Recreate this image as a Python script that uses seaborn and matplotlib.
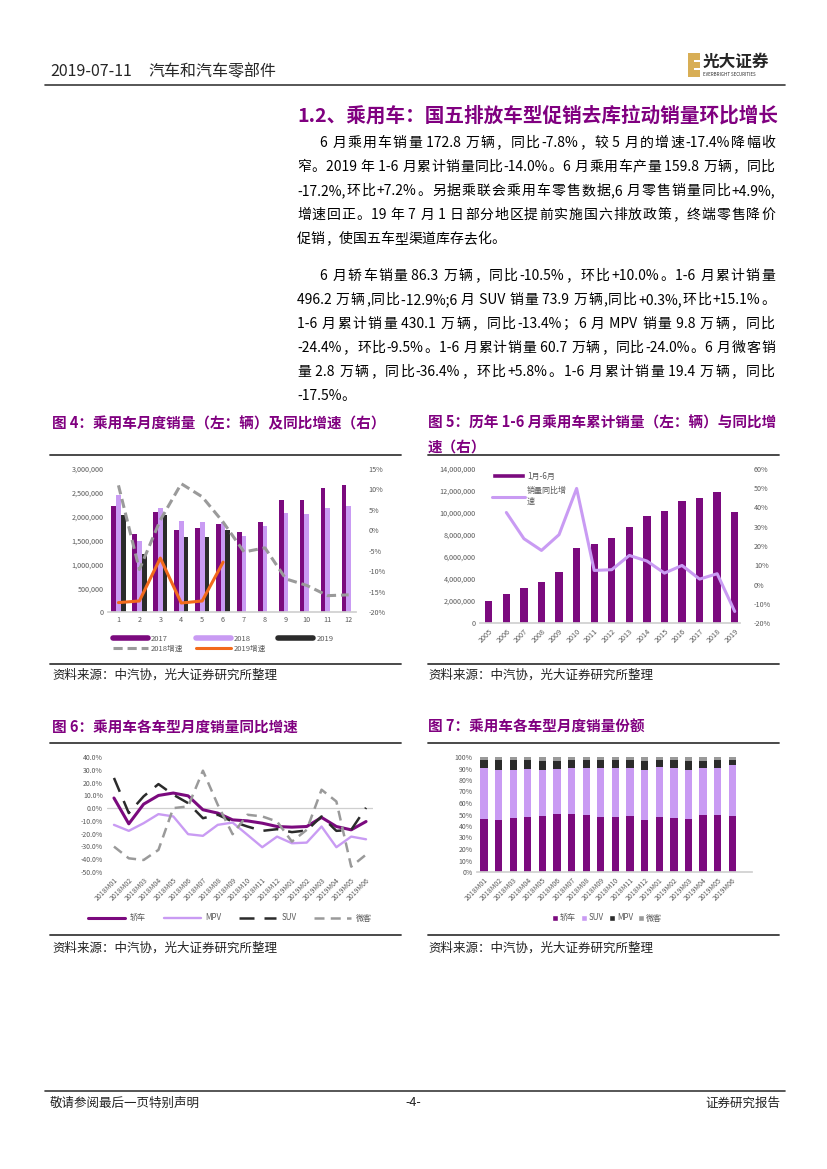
import re
import numpy as np
import pandas as pd
import matplotlib
matplotlib.use('Agg')
import matplotlib.pyplot as plt
import seaborn as sns
from matplotlib.lines import Line2D
from matplotlib.patches import Patch, Rectangle
from matplotlib.font_manager import FontProperties

sns.set_theme(style='white')
plt.rcParams['font.family'] = ['Noto Sans CJK SC', 'DejaVu Sans']
plt.rcParams['axes.unicode_minus'] = False

# ---- data ----
months = list(range(1, 13))
sales_2017 = [2222000, 1633000, 2096000, 1717000, 1759000, 1843000,
              1675000, 1885000, 2355000, 2355000, 2600000, 2663000]
sales_2018 = [2453000, 1486000, 2180000, 1906000, 1885000, 1885000,
              1598000, 1801000, 2075000, 2054000, 2180000, 2222000]
sales_2019 = [2033000, 1213000, 2033000, 1570000, 1570000, 1717000]
growth_2018 = [11.0, -9.6, 2.5, 11.4, 8.2, 2.0, -5.3, -4.3, -11.9, -13.5, -16.0, -15.8]
growth_2019 = [-17.7, -17.3, -6.8, -17.8, -17.3, -7.8]

h1_years = [str(y) for y in range(2005, 2020)]
h1_sales = [1970000, 2660000, 3200000, 3750000, 4660000, 6800000, 7190000, 7740000,
            8740000, 9740000, 10160000, 11100000, 11370000, 11910000, 10120000]
h1_growth = [np.nan, 37.4, 23.8, 17.7, 25.9, 49.9, 7.3, 7.7, 15.1, 12.2,
             5.9, 9.9, 2.8, 5.6, -14.0]

ym_labels = ['2018M%02d' % m for m in range(1, 13)] + ['2019M%02d' % m for m in range(1, 7)]
yoy_sedan = [7.9, -12.3, 3.1, 9.9, 11.8, 9.6, -1.3, -3.9, -9.2, -10.0, -11.8, -14.4,
             -14.9, -14.4, -7.3, -14.4, -17.0, -10.5]
yoy_mpv = [-13.1, -17.8, -11.8, -4.7, -6.5, -20.4, -21.7, -13.1, -11.3, -20.9, -30.6, -22.3,
           -27.5, -27.0, -14.4, -30.6, -22.3, -24.4]
yoy_suv = [23.6, -3.9, 9.2, 18.8, 10.5, 3.9, -7.9, -5.2, -10.5, -14.4, -17.8, -16.5,
           -18.8, -17.5, -6.5, -17.8, -17.0, 0.3]
yoy_mini = [-30.1, -39.3, -40.6, -32.7, 0.0, 1.3, 29.3, 2.6, -20.4, -5.2, -6.5, -10.5,
            -26.2, -17.0, 14.4, 5.2, -45.8, -36.4]

share_sedan = [46.0, 45.0, 47.0, 48.0, 48.7, 50.4, 50.4, 49.6, 47.8, 47.8, 48.7, 45.0,
               47.8, 47.0, 46.0, 49.6, 49.6, 48.7]
share_suv = [44.4, 43.9, 41.9, 41.8, 40.2, 39.4, 40.0, 40.8, 42.6, 42.6, 41.7, 43.9,
             43.7, 43.4, 42.9, 40.8, 40.8, 44.0]
share_mpv = [7.3, 8.8, 8.8, 7.9, 7.9, 7.0, 7.3, 7.3, 7.3, 7.3, 7.3, 7.9,
             6.2, 7.3, 7.9, 6.4, 7.3, 5.0]
share_mini = [2.3, 2.3, 2.3, 2.3, 3.2, 3.2, 2.3, 2.3, 2.3, 2.3, 2.3, 3.2,
              2.3, 2.3, 3.2, 3.2, 2.3, 2.3]

PURPLE = '#7B0A7E'
LILAC = '#C99BF3'
DARK = '#2B2B2B'
GRAY = '#9A9A9A'
ORANGE = '#F26A1B'
TITLE_PURPLE = '#800080'
TICK = '#595959'

W, H = 827, 1169
fig = plt.figure(figsize=(8.27, 11.69), dpi=100)
renderer = fig.canvas.get_renderer()


def fx(x):
    return x / W


def fy(y):
    return 1 - y / H


def hline(x0, x1, y, lw=1.0, color='#3a3a3a'):
    fig.add_artist(Line2D([fx(x0), fx(x1)], [fy(y), fy(y)], lw=lw, color=color))


def px_axes(x0, y0, x1, y1):
    return fig.add_axes([fx(x0), fy(y1), (x1 - x0) / W, (y1 - y0) / H])


def text_line(x0, x1, y, s, fp, justify=True):
    # spread CJK chars / ascii runs so the line fills x0..x1
    toks = re.findall(r'[ -~]+|.', s)
    widths = [renderer.get_text_width_height_descent(t, fp, ismath=False)[0] for t in toks]
    gap = (x1 - x0 - sum(widths)) / (len(toks) - 1) if justify and len(toks) > 1 else 0
    x = x0
    for t, w in zip(toks, widths):
        fig.text(fx(x), fy(y), t, fontproperties=fp, ha='left', va='center', color='black')
        x += w + gap


def style_ax(ax, size=5.2):
    ax.tick_params(axis='both', length=0, labelsize=size, labelcolor=TICK, pad=3)
    for sp in ax.spines.values():
        sp.set_visible(False)
    ax.set_xlabel('')
    ax.set_ylabel('')


# ---- page header ----
fam = ['Noto Sans CJK SC', 'DejaVu Sans']
fig.text(fx(50), fy(72), '2019-07-11', fontsize=11.5, family=fam, ha='left', va='center')
fig.text(fx(148), fy(72), '汽车和汽车零部件', fontsize=11.5, family=fam, ha='left', va='center')
hline(45, 785, 85, lw=1.2)
fig.add_artist(Rectangle((fx(688), fy(77)), 12 / W, 24 / H, transform=fig.transFigure,
                         facecolor='#D8AE55', edgecolor='none'))
for yy in (60, 68):
    fig.add_artist(Rectangle((fx(694), fy(yy + 2)), 6 / W, 2 / H, transform=fig.transFigure,
                             facecolor='white', edgecolor='none'))
fig.text(fx(703), fy(62), '光大证券', fontsize=12, family=fam, weight='bold', ha='left', va='center')
fig.text(fx(703), fy(74), 'EVERBRIGHT SECURITIES', fontsize=3.2, family=fam, ha='left', va='center')

# ---- section title and body ----
fig.text(fx(297), fy(115), '1.2、乘用车：国五排放车型促销去库拉动销量环比增长', fontsize=14.1,
         family=fam, weight='bold', color=TITLE_PURPLE, ha='left', va='center')

body = FontProperties(family=fam, size=10)
para1 = [
    (320, 143, '6 月乘用车销量 172.8 万辆，同比-7.8%，较 5 月的增速-17.4%降幅收', True),
    (297, 167, '窄。2019 年 1-6 月累计销量同比-14.0%。6 月乘用车产量 159.8 万辆，同比', True),
    (297, 191, '-17.2%,环比+7.2%。另据乘联会乘用车零售数据,6 月零售销量同比+4.9%,', True),
    (297, 215, '增速回正。19 年 7 月 1 日部分地区提前实施国六排放政策，终端零售降价', True),
    (297, 239, '促销，使国五车型渠道库存去化。', False),
    (320, 276, '6 月轿车销量 86.3 万辆，同比-10.5%，环比+10.0%。1-6 月累计销量', True),
    (297, 300, '496.2 万辆,同比-12.9%;6 月 SUV 销量 73.9 万辆,同比+0.3%,环比+15.1%。', True),
    (297, 324, '1-6 月累计销量 430.1 万辆，同比-13.4%；6 月 MPV 销量 9.8 万辆，同比', True),
    (297, 348, '-24.4%，环比-9.5%。1-6 月累计销量 60.7 万辆，同比-24.0%。6 月微客销', True),
    (297, 372, '量 2.8 万辆，同比-36.4%，环比+5.8%。1-6 月累计销量 19.4 万辆，同比', True),
    (297, 396, '-17.5%。', False),
]
for x0, y, s, j in para1:
    text_line(x0, 775, y, s, body, j)

# ---- figure titles / rules ----
tkw = dict(fontsize=10.5, family=fam, weight='bold', color=TITLE_PURPLE, ha='left', va='center')
fig.text(fx(52), fy(423), '图 4：乘用车月度销量（左：辆）及同比增速（右）', **tkw)
fig.text(fx(428), fy(423), '图 5：历年 1-6 月乘用车累计销量（左：辆）与同比增', **tkw)
fig.text(fx(428), fy(447), '速（右）', **tkw)
fig.text(fx(52), fy(727), '图 6：乘用车各车型月度销量同比增速', **tkw)
fig.text(fx(428), fy(727), '图 7：乘用车各车型月度销量份额', **tkw)
for y in (455, 664, 743, 935):
    hline(50, 401, y, lw=1.3)
    hline(428, 779, y, lw=1.3)
skw = dict(fontsize=9, family=fam, ha='left', va='center', color='#222222')
for y in (675, 948):
    fig.text(fx(52), fy(y), '资料来源：中汽协，光大证券研究所整理', **skw)
    fig.text(fx(428), fy(y), '资料来源：中汽协，光大证券研究所整理', **skw)

# ---- chart 4 ----
ax4 = px_axes(108, 469, 356, 612)
df4 = pd.DataFrame({
    'month': months * 2 + months[:6],
    'year': ['2017'] * 12 + ['2018'] * 12 + ['2019'] * 6,
    'sales': sales_2017 + sales_2018 + sales_2019,
})
sns.barplot(data=df4, x='month', y='sales', hue='year', palette=[PURPLE, LILAC, DARK],
            width=0.68, saturation=1, legend=False, linewidth=0, ax=ax4)
ax4.set_ylim(0, 3000000)
yt = list(range(0, 3000001, 500000))
ax4.set_yticks(yt)
ax4.set_yticklabels([f'{v:,}' for v in yt])
style_ax(ax4)
ax4.spines['bottom'].set_visible(True)
ax4.spines['bottom'].set_color('#d0d0d0')
ax4r = ax4.twinx()
sns.lineplot(x=np.arange(12), y=growth_2018, ax=ax4r, color=GRAY, lw=2.2,
             linestyle=(0, (3, 1.6)))
sns.lineplot(x=np.arange(6), y=growth_2019, ax=ax4r, color=ORANGE, lw=2.2)
ax4r.set_ylim(-20, 15)
ax4r.set_yticks(range(-20, 16, 5))
ax4r.set_yticklabels([f'{v}%' for v in range(-20, 16, 5)])
style_ax(ax4r)
ax4r.tick_params(axis='y', pad=9)
ax4.set_xlim(-0.5, 11.35)
h4 = [Line2D([], [], color=PURPLE, lw=4), Line2D([], [], color=GRAY, lw=2.2, ls=(0, (3, 1.6))),
      Line2D([], [], color=LILAC, lw=4), Line2D([], [], color=ORANGE, lw=2.2),
      Line2D([], [], color=DARK, lw=4)]
l4 = ['2017', '2018增速', '2018', '2019增速', '2019']
ax4.legend(h4, l4, ncol=3, loc='upper left', bbox_to_anchor=(fx(106), fy(628)),
           bbox_transform=fig.transFigure, frameon=False, fontsize=5.5, handlelength=4.6,
           handletextpad=0.4, columnspacing=1.6, labelspacing=0.25, labelcolor=TICK)

# ---- chart 5 ----
ax5 = px_axes(480, 469, 740, 623)
sns.barplot(x=h1_years, y=h1_sales, color=PURPLE, saturation=1, width=0.42, linewidth=0, ax=ax5)
ax5.set_ylim(0, 14000000)
yt5 = list(range(0, 14000001, 2000000))
ax5.set_yticks(yt5)
ax5.set_yticklabels([f'{v:,}' for v in yt5])
style_ax(ax5)
ax5.spines['bottom'].set_visible(True)
ax5.spines['bottom'].set_color('#d0d0d0')
ax5.tick_params(axis='x', labelrotation=45)
for lab in ax5.get_xticklabels():
    lab.set_ha('right')
    lab.set_rotation_mode('anchor')
ax5r = ax5.twinx()
sns.lineplot(x=np.arange(15), y=h1_growth, ax=ax5r, color=LILAC, lw=2.2)
ax5r.set_ylim(-20, 60)
ax5r.set_yticks(range(-20, 61, 10))
ax5r.set_yticklabels([f'{v}%' for v in range(-20, 61, 10)])
style_ax(ax5r)
ax5r.tick_params(axis='y', pad=10)
ax5.set_xlim(-0.5, 14.3)
h5 = [Patch(facecolor=PURPLE), Line2D([], [], color=LILAC, lw=2.2)]
ax5.legend(h5, ['1月-6月', '销量同比增\n速'], loc='upper left', bbox_to_anchor=(0.02, 1.03),
           frameon=False, fontsize=5.8, handlelength=4.0, handleheight=0.6,
           handletextpad=0.3, labelspacing=0.7, labelcolor=TICK)

# ---- chart 6 ----
ax6 = px_axes(107, 757, 373, 872)
sns.lineplot(x=np.arange(18), y=yoy_sedan, ax=ax6, color=PURPLE, lw=2.2)
sns.lineplot(x=np.arange(18), y=yoy_mpv, ax=ax6, color=LILAC, lw=1.7)
sns.lineplot(x=np.arange(18), y=yoy_suv, ax=ax6, color=DARK, lw=1.8, linestyle=(0, (6, 4)))
sns.lineplot(x=np.arange(18), y=yoy_mini, ax=ax6, color=GRAY, lw=1.8, linestyle=(0, (4, 2.5)))
ax6.axhline(0, color='#cfcfcf', lw=0.9, zorder=0)
ax6.set_ylim(-50, 40)
ax6.set_xlim(-0.47, 17.47)
ax6.set_yticks(range(-50, 41, 10))
ax6.set_yticklabels([f'{v:.1f}%' for v in range(-50, 41, 10)])
ax6.set_xticks(np.arange(18))
ax6.set_xticklabels(ym_labels, rotation=45, ha='right', rotation_mode='anchor')
style_ax(ax6, size=5)
h6 = [Line2D([], [], color=PURPLE, lw=2.2), Line2D([], [], color=LILAC, lw=1.7),
      Line2D([], [], color=DARK, lw=1.8, ls=(0, (6, 4))),
      Line2D([], [], color=GRAY, lw=1.8, ls=(0, (4, 2.5)))]
ax6.legend(h6, ['轿车', 'MPV', 'SUV', '微客'], ncol=4, loc='center',
           bbox_to_anchor=(fx(230), fy(918)), bbox_transform=fig.transFigure,
           frameon=False, fontsize=5.8, handlelength=4.6, handletextpad=0.6,
           columnspacing=2.2, labelcolor=TICK)

# ---- chart 7 ----
ax7 = px_axes(477, 757, 752, 872)
stack = np.cumsum([share_sedan, share_suv, share_mpv, share_mini], axis=0)
for row, col in zip(stack[::-1], [GRAY, DARK, LILAC, PURPLE]):
    sns.barplot(x=ym_labels, y=row, color=col, saturation=1, width=0.5, linewidth=0, ax=ax7)
ax7.set_ylim(0, 100)
ax7.set_xlim(-0.48, 18.35)
ax7.set_yticks(range(0, 101, 10))
ax7.set_yticklabels([f'{v}%' for v in range(0, 101, 10)])
ax7.set_xticks(np.arange(18))
ax7.set_xticklabels(ym_labels, rotation=45, ha='right', rotation_mode='anchor')
style_ax(ax7, size=5)
ax7.spines['bottom'].set_visible(True)
ax7.spines['bottom'].set_color('#d0d0d0')
h7 = [Patch(facecolor=c) for c in (PURPLE, LILAC, DARK, GRAY)]
ax7.legend(h7, ['轿车', 'SUV', 'MPV', '微客'], ncol=4, loc='center',
           bbox_to_anchor=(fx(607), fy(918)), bbox_transform=fig.transFigure,
           frameon=False, fontsize=5.8, handlelength=0.8, handleheight=0.8,
           handletextpad=0.2, columnspacing=0.6, labelcolor=TICK)

# ---- footer ----
hline(45, 785, 1091, lw=1.2)
fkw = dict(fontsize=9, family=fam, va='center', color='#222222')
fig.text(fx(50), fy(1103), '敬请参阅最后一页特别声明', ha='left', **fkw)
fig.text(fx(413), fy(1103), '-4-', ha='center', **fkw)
fig.text(fx(780), fy(1103), '证券研究报告', ha='right', **fkw)

fig.savefig('out.png', dpi=100, facecolor='white')
plt.close(fig)
